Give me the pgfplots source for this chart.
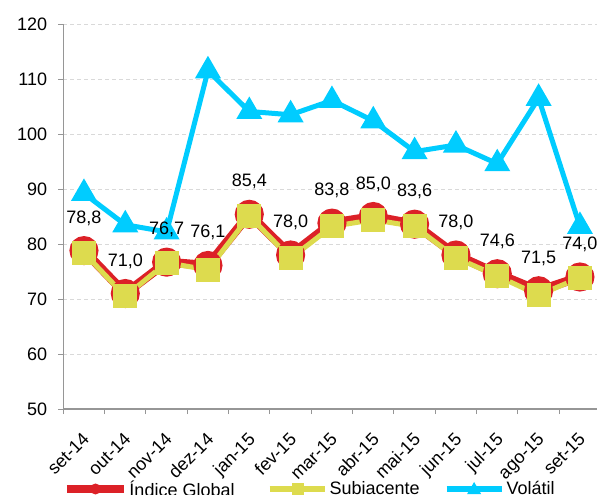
\documentclass[border=0pt]{standalone}
\usepackage{fontspec}
\setmainfont{Liberation Sans}
\usepackage{pgfplots}
\pgfplotsset{compat=1.18}
\definecolor{cred}{RGB}{220,33,39}
\definecolor{cyel}{RGB}{221,219,78}
\definecolor{cblue}{RGB}{0,204,255}
\definecolor{cgrid}{RGB}{217,217,217}
\definecolor{caxis}{RGB}{150,150,150}
\begin{document}
\begin{tikzpicture}
\begin{axis}[
  at={(63.3bp,86bp)}, anchor=south west,
  scale only axis, width=537.3bp, height=385bp,
  xmin=-0.5, xmax=12.5, ymin=50, ymax=120,
  axis lines*=left,
  axis line style={caxis, line width=1.2bp, -},
  ytick={50,60,...,120},
  ymajorgrids,
  grid style={cgrid, line width=1bp, dash pattern=on 4bp off 3bp},
  xtick={0,...,12},
  xticklabels={set-14,out-14,nov-14,dez-14,jan-15,fev-15,mar-15,abr-15,mai-15,jun-15,jul-15,ago-15,set-15},
  minor xtick={-0.5,0.5,...,12.5},
  major x tick style={draw=none},
  tick align=outside,
  major tick length=5bp, minor tick length=5bp,
  tick style={caxis, line width=1bp},
  ticklabel style={font=\fontsize{18bp}{20bp}\selectfont},
  /pgf/number format/assume math mode=true,
  yticklabel style={anchor=east, inner sep=0pt, xshift=-11bp},
  xticklabel style={rotate=45, anchor=north east, inner sep=0pt, xshift=-14bp, yshift=-10.6bp},
  clip=false,
  legend columns=3,
  legend style={at={(axis description cs:0.0,-0.2078)}, anchor=west, draw=none, fill=none,
    font=\fontsize{18bp}{20bp}\selectfont, inner sep=0pt,
    /tikz/column 2/.style={column sep=30bp},
    /tikz/column 4/.style={column sep=22bp}},
]
\addplot[cred, line width=9bp, mark=*, mark size=10bp, mark options={draw=none, fill=cred},
  legend image code/.code={\draw[cred, line width=7bp] (0bp,0bp)--(57bp,0bp); \path[fill=cred, draw=none] (28.5bp,0bp) circle (5.5bp);}]
 coordinates {(0,78.8)(1,71.0)(2,76.7)(3,76.1)(4,85.4)(5,78.0)(6,83.8)(7,85.0)(8,83.6)(9,78.0)(10,74.6)(11,71.5)(12,74.0)};
\addlegendentry{Índice Global}
\addplot[cyel, line width=5bp, mark=square*, mark size=9.5bp, mark options={draw=none, fill=cyel},
  legend image code/.code={\draw[cyel, line width=6bp] (0bp,0bp)--(55bp,0bp); \path[fill=cyel, draw=none] (22bp,-6bp) rectangle (34bp,6bp);}]
 coordinates {(0,78.4)(1,70.5)(2,76.6)(3,75.3)(4,85.1)(5,77.4)(6,83.2)(7,84.4)(8,83.2)(9,77.5)(10,74.2)(11,70.7)(12,73.9)};
\addlegendentry{Subiacente}
\addplot[cblue, line width=5bp, mark=triangle*, mark size=10bp, mark options={draw=none, fill=cblue},
  legend image code/.code={\draw[cblue, line width=6bp] (0bp,0bp)--(55bp,0bp); \path[fill=cblue, draw=none] (27.5bp,7bp) -- (20.5bp,-5bp) -- (34.5bp,-5bp) -- cycle;}]
 coordinates {(0,89.2)(1,83.5)(2,82.2)(3,111.5)(4,104.1)(5,103.5)(6,106.1)(7,102.4)(8,96.8)(9,98.0)(10,94.6)(11,106.5)(12,83.2)};
\addlegendentry{Volátil}
\addplot[draw=none, forget plot, nodes near coords, point meta=explicit symbolic,
  every node near coord/.append style={anchor=base, yshift=27.5bp, inner sep=0pt, black, font=\fontsize{18bp}{20bp}\selectfont}]
 coordinates {(0,78.8)[78,8] (1,71.0)[71,0] (2,76.7)[76,7] (3,76.1)[76,1] (4,85.4)[85,4] (5,78.0)[78,0] (6,83.8)[83,8] (7,85.0)[85,0] (8,83.6)[83,6] (9,78.0)[78,0] (10,74.6)[74,6] (11,71.5)[71,5] (12,74.0)[74,0]};
\end{axis}
\pgfresetboundingbox
\path[use as bounding box] (0,0) rectangle (597bp,495bp);
\end{tikzpicture}
\end{document}
